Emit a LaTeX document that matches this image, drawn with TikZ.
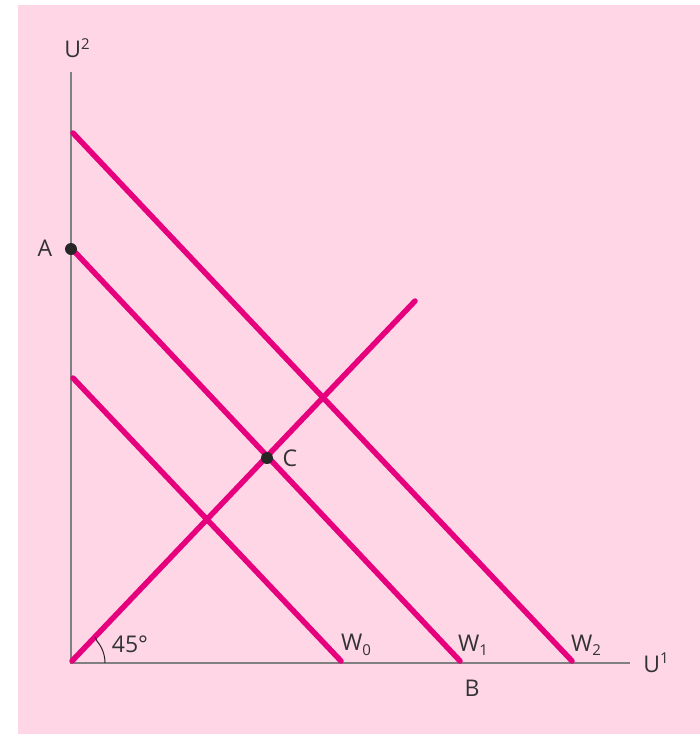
\documentclass[tikz,border=0pt]{standalone}
\usepackage{fontspec}
\setmainfont{Open Sans}
\definecolor{bgpink}{RGB}{255,214,229}
\definecolor{mag}{RGB}{230,0,126}
\definecolor{axisgray}{RGB}{128,128,128}
\newcommand{\mysub}[1]{\raisebox{-0.35ex}{\fontsize{15}{15}\selectfont #1}}
\newcommand{\mysup}[1]{\raisebox{0.7ex}{\fontsize{15}{15}\selectfont #1}}
\begin{document}
\begin{tikzpicture}[x=1pt,y=-1pt,
  wline/.style={draw=mag,line width=5.5pt,line cap=round},
  axisline/.style={draw=axisgray,line width=1.4pt},
  dot/.style={circle,fill=black!85,inner sep=0pt,minimum size=12pt},
  lbl/.style={font=\fontsize{23}{25}\selectfont,text=black!80,inner sep=0pt}]
\useasboundingbox (0,0) rectangle (700,734);
\fill[white] (0,0) rectangle (700,734);
\fill[bgpink] (18,5) rectangle (700,734);
% axes
\coordinate (O) at (71,663);
\coordinate (Ytop) at (71,72);
\coordinate (Xend) at (630,663);
\draw[axisline] (Ytop) -- (O) -- (Xend);
% lines
\coordinate (w0a) at (73,378);
\coordinate (w0b) at (341,661);
\coordinate (w1a) at (73,250);
\coordinate (w1b) at (460,661);
\coordinate (w2a) at (73,133);
\coordinate (w2b) at (572,661);
\coordinate (d45) at (415,301);
\coordinate (O2) at (72,661);
\draw[wline] (w0a) -- (w0b);
\draw[wline] (w1a) -- (w1b);
\draw[wline] (w2a) -- (w2b);
\draw[wline] (O2) -- (d45);
% angle arc
\draw[black!85,line width=1pt] ([shift={(0:34)}]O) arc[start angle=0,end angle=-40,radius=34];
\draw[black!85,line width=1pt] ([shift={(-40:34)}]O) -- ++(-2,-4);
% points
\node[dot] (A) at (71,249) {};
\node[dot] (C) at (267,458) {};
% labels
\node[lbl] (lU2) at (77,48) {U\mysup{2}};
\node[lbl] (lA) at (45,248) {A};
\node[lbl] (lC) at (290,458) {C};
\node[lbl] (l45) at (130,644) {45°};
\node[lbl] (lW0) at (356,645) {W\mysub{0}};
\node[lbl] (lW1) at (473,645) {W\mysub{1}};
\node[lbl] (lW2) at (586,645) {W\mysub{2}};
\node[lbl] (lU1) at (656,663) {U\mysup{1}};
\node[lbl] (lB) at (472,688) {B};
\end{tikzpicture}
\end{document}
